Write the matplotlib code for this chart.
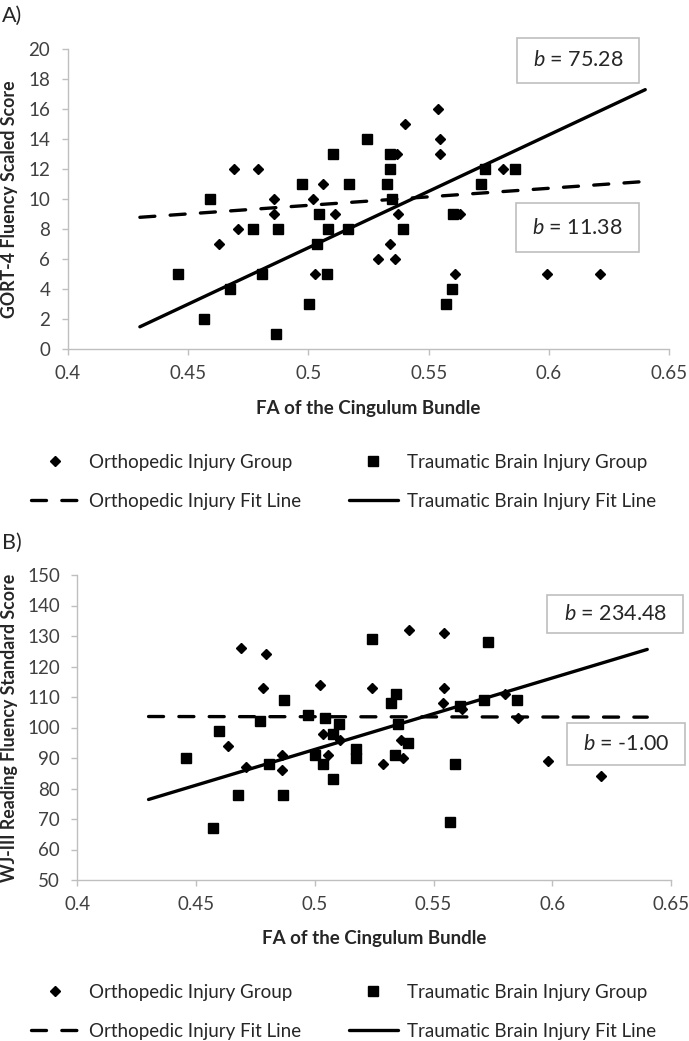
import matplotlib
matplotlib.use('Agg')
import matplotlib.pyplot as plt
from matplotlib.patches import Rectangle

plt.rcParams['font.family'] = ['Lato', 'DejaVu Sans']
plt.rcParams['mathtext.fontset'] = 'custom'
plt.rcParams['mathtext.rm'] = 'Lato'
plt.rcParams['mathtext.it'] = 'Lato:italic'

# ---------------- panel A: GORT-4 fluency ----------------
a_oi_x = [0.4693, 0.4792, 0.4630, 0.4709, 0.4859, 0.4859, 0.5021, 0.5060, 0.5112, 0.5028,
          0.5540, 0.5402, 0.5547, 0.5547, 0.5367, 0.5810, 0.5374, 0.5340, 0.5291, 0.5360,
          0.5631, 0.5610, 0.5991, 0.6212]
a_oi_y = [12, 12, 7, 8, 10, 9, 10, 11, 9, 5,
          16, 15, 14, 13, 13, 12, 9, 7, 6, 6,
          9, 5, 5, 5]
a_tbi_x = [0.4591, 0.4457, 0.4568, 0.4675, 0.4772, 0.4806, 0.4866, 0.4873, 0.4973, 0.5046,
           0.5035, 0.5004, 0.5076, 0.5083, 0.5166, 0.5170, 0.5104, 0.5245, 0.5339, 0.5339,
           0.5326, 0.5735, 0.5859, 0.5718, 0.5347, 0.5395, 0.5603, 0.5596, 0.5571]
a_tbi_y = [10, 5, 2, 4, 8, 5, 1, 8, 11, 9,
           7, 3, 5, 8, 8, 11, 13, 14, 13, 12,
           11, 12, 12, 11, 10, 8, 9, 4, 3]
a_fit_x = [0.43, 0.64]
a_oi_fit = [8.80, 11.19]
a_tbi_fit = [1.50, 17.31]
a_b_tbi = 'b = 75.28'
a_b_oi = 'b = 11.38'

# ---------------- panel B: WJ-III reading fluency ----------------
b_oi_x = [0.4689, 0.4793, 0.4783, 0.5021, 0.4636, 0.4710, 0.4860, 0.4860, 0.5033, 0.5057,
          0.5106, 0.5396, 0.5545, 0.5239, 0.5545, 0.5540, 0.5618, 0.5800, 0.5856, 0.5365,
          0.5288, 0.5372, 0.5982, 0.6207]
b_oi_y = [126, 124, 113, 114, 94, 87, 91, 86, 98, 91,
          96, 132, 131, 113, 113, 108, 106, 111, 103, 96,
          88, 90, 89, 84]
b_tbi_x = [0.4598, 0.4457, 0.4570, 0.4678, 0.4769, 0.4808, 0.4867, 0.4871, 0.4972, 0.5043,
           0.5077, 0.5103, 0.5000, 0.5033, 0.5075, 0.5243, 0.5344, 0.5323, 0.5611, 0.5712,
           0.5852, 0.5730, 0.5351, 0.5393, 0.5337, 0.5173, 0.5173, 0.5590, 0.5569]
b_tbi_y = [99, 90, 67, 78, 102, 88, 78, 109, 104, 103,
           98, 101, 91, 88, 83, 129, 111, 108, 107, 109,
           109, 128, 101, 95, 91, 93, 90, 88, 69]
b_fit_x = [0.43, 0.64]
b_oi_fit = [103.6, 103.4]
b_tbi_fit = [76.4, 125.6]
b_b_tbi = 'b = 234.48'
b_b_oi = 'b = -1.00'

x_ticks = [0.4, 0.45, 0.5, 0.55, 0.6, 0.65]
x_ticklabels = ['0.4', '0.45', '0.5', '0.55', '0.6', '0.65']
labels = ['Orthopedic Injury Group', 'Orthopedic Injury Fit Line',
          'Traumatic Brain Injury Group', 'Traumatic Brain Injury Fit Line']

W, H = 689, 1041
fig = plt.figure(figsize=(W / 100, H / 100), dpi=100)

GRAY = '#bfbfbf'
TXT = '#404040'
DARK = '#262626'


def px_axes(l, t, r, b):
    return fig.add_axes([l / W, 1 - b / H, (r - l) / W, (b - t) / H])


def draw_panel(ax, oi_x, oi_y, tbi_x, tbi_y, fit_x, oi_fit, tbi_fit, ylim, yticks, ylabel):
    h_oi, = ax.plot(oi_x, oi_y, 'D', color='black', ms=5.3, ls='none')
    h_tbi, = ax.plot(tbi_x, tbi_y, 's', color='black', ms=7.5, ls='none')
    h_oif, = ax.plot(fit_x, oi_fit, color='black', lw=2.4, dashes=(4.5, 4.6),
                     dash_capstyle='round')
    h_tbif, = ax.plot(fit_x, tbi_fit, color='black', lw=2.4, solid_capstyle='round')
    ax.set_xlim(0.4, 0.65)
    ax.set_ylim(*ylim)
    ax.set_xticks(x_ticks)
    ax.set_xticklabels(x_ticklabels)
    ax.set_yticks(yticks)
    for s in ['top', 'right']:
        ax.spines[s].set_visible(False)
    for s in ['left', 'bottom']:
        ax.spines[s].set_color(GRAY)
        ax.spines[s].set_linewidth(1.0)
    ax.tick_params(axis='both', colors=GRAY, length=4.5, width=1.0, labelcolor=TXT,
                   labelsize=13.5)
    ax.tick_params(axis='x', pad=7)
    ax.tick_params(axis='y', pad=8)
    ax.set_xlabel('FA of the Cingulum Bundle', fontsize=13.5, fontweight='bold', color=DARK)
    ax.set_ylabel(ylabel, fontsize=12.8, fontweight='bold', color=DARK)
    return [h_oi, h_oif, h_tbi, h_tbif]


def b_box(l, t, r, b, text):
    fig.add_artist(Rectangle((l / W, 1 - b / H), (r - l) / W, (b - t) / H,
                             transform=fig.transFigure, facecolor='white',
                             edgecolor=GRAY, lw=1.2))
    s = text.replace('b =', '$b$ =')
    fig.text((l + r) / 2 / W, 1 - (t + b) / 2 / H, s, ha='center', va='center',
             fontsize=15.5, color=DARK)


def legend(ax, handles, top):
    leg = ax.legend(handles, labels, ncol=2, loc='upper left',
                    bbox_to_anchor=(31 / W, 1 - top / H), bbox_transform=fig.transFigure,
                    frameon=False, borderpad=0, borderaxespad=0, numpoints=1,
                    handlelength=2.6, handletextpad=0.5, columnspacing=2.55,
                    labelspacing=1.15, fontsize=13.5)
    for t in leg.get_texts():
        t.set_color(DARK)


# panel A
axA = px_axes(67.7, 49.3, 669.3, 349.3)
hA = draw_panel(axA, a_oi_x, a_oi_y, a_tbi_x, a_tbi_y, a_fit_x, a_oi_fit, a_tbi_fit,
                (0, 20), range(0, 21, 2), 'GORT-4 Fluency Scaled Score')
axA.yaxis.set_label_coords(-0.083, 0.5)
axA.xaxis.set_label_coords(0.5, -0.168)
legend(axA, hA, 454)
b_box(516.7, 37.7, 639.3, 83.3, a_b_tbi)
b_box(515.7, 203.3, 639.3, 251.7, a_b_oi)
fig.text(2 / W, 1 - 16 / H, 'A)', fontsize=15.5, color=DARK, ha='left', va='center')

# panel B
axB = px_axes(77.3, 575, 671, 880)
hB = draw_panel(axB, b_oi_x, b_oi_y, b_tbi_x, b_tbi_y, b_fit_x, b_oi_fit, b_tbi_fit,
                (50, 150), range(50, 151, 10), 'WJ-III Reading Fluency Standard Score')
axB.yaxis.set_label_coords(-0.1, 0.5)
axB.xaxis.set_label_coords(0.5, -0.165)
legend(axB, hB, 984)
b_box(547.3, 595.3, 683.3, 633.3, b_b_tbi)
b_box(567.3, 722.7, 685, 765, b_b_oi)
fig.text(2 / W, 1 - 543 / H, 'B)', fontsize=15.5, color=DARK, ha='left', va='center')

fig.savefig('out.png', dpi=100)
